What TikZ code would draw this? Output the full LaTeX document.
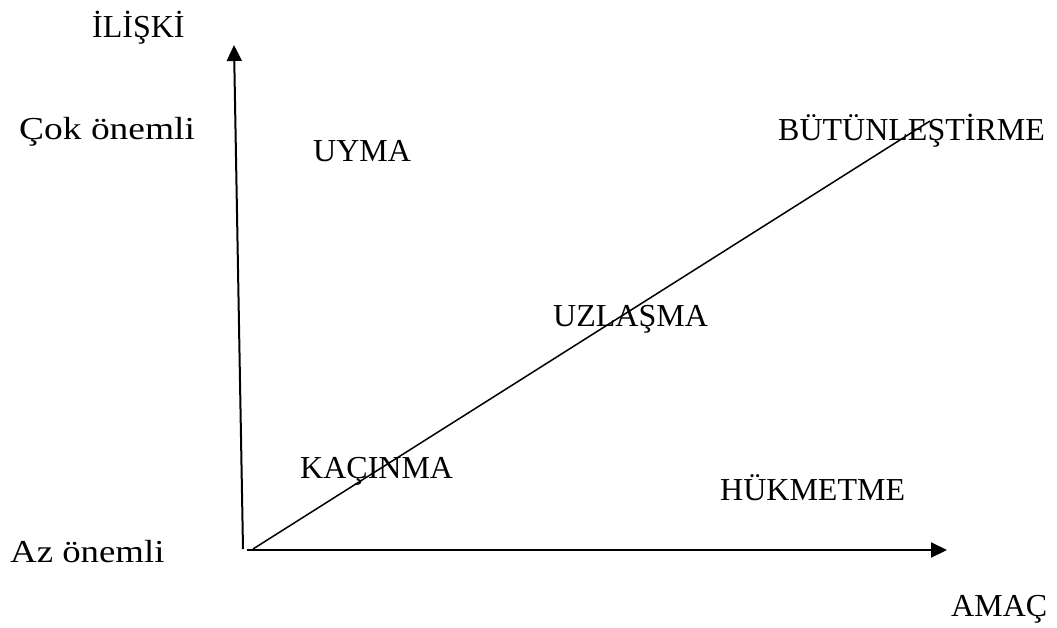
\documentclass[tikz,border=0pt]{standalone}
\usepackage{fontspec}
\setmainfont{Liberation Serif}
\usetikzlibrary{arrows.meta}
\begin{document}
\begin{tikzpicture}[x=1pt,y=-1pt,
  lbl/.style={anchor=base west,inner sep=0pt,font=\fontsize{32}{38}\selectfont},
  axis/.style={line width=2pt,-{Triangle[length=16pt,width=15pt]}},
  diag/.style={line width=1.5pt}]
\useasboundingbox (0,0) rectangle (1057,627);
\coordinate (vstart) at (243,549);
\coordinate (vend) at (234,45);
\coordinate (hstart) at (247,550);
\coordinate (hend) at (947,550);
\coordinate (dstart) at (253,549);
\coordinate (dend) at (930,121);
\draw[axis] (vstart) -- (vend);
\draw[axis] (hstart) -- (hend);
\draw[diag] (dstart) -- (dend);
\node[lbl] (iliski) at (92,37) {İLİŞKİ};
\node[lbl,xscale=1.17,transform shape] (cok) at (19,139) {Çok önemli};
\node[lbl] (uyma) at (313,161) {UYMA};
\node[lbl] (butun) at (778,140) {BÜTÜNLEŞTİRME};
\node[lbl] (uzlasma) at (553,326) {UZLAŞMA};
\node[lbl] (kacinma) at (300,478) {KAÇINMA};
\node[lbl] (hukmetme) at (720,500) {HÜKMETME};
\node[lbl,xscale=1.15,transform shape] (az) at (10,562) {Az önemli};
\node[lbl] (amac) at (951,616) {AMAÇ};
\end{tikzpicture}
\end{document}
